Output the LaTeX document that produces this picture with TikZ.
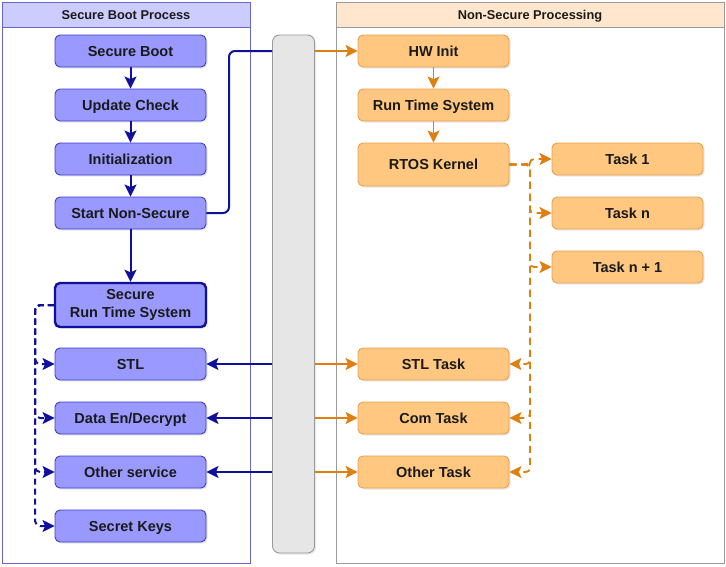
\documentclass[tikz,border=0pt]{standalone}
\usepackage{fontspec}
\setmainfont{Liberation Sans}
\usetikzlibrary{arrows.meta,shadows}

\definecolor{secfill}{HTML}{9999FF}
\definecolor{secline}{HTML}{3D3DCC}
\definecolor{navy}{HTML}{10109A}
\definecolor{sechead}{HTML}{CCCCFF}
\definecolor{secpanel}{HTML}{6666CC}
\definecolor{nsfill}{HTML}{FFC77F}
\definecolor{nsline}{HTML}{E8A050}
\definecolor{nsarrow}{HTML}{DE7F10}
\definecolor{nshead}{HTML}{FFE6CC}
\definecolor{busfill}{HTML}{E6E6E6}
\definecolor{busline}{HTML}{9A9A9A}
\definecolor{txt}{HTML}{1A1A1A}

\begin{document}
\begin{tikzpicture}[x=1pt, y=-1pt]
\tikzstyle{base} = [rounded corners=5pt, minimum width=151pt, minimum height=32pt, inner sep=0pt, text=txt, font=\bfseries\fontsize{14.5}{18.5}\selectfont, drop shadow={shadow xshift=1.5pt, shadow yshift=-1.5pt, opacity=0.18}]
\tikzstyle{box} = [base, text height=10.4pt, text depth=0pt]
\tikzstyle{sbox} = [box, draw=secline, line width=0.9pt, fill=secfill]
\tikzstyle{nbox} = [box, draw=nsline, line width=0.9pt, fill=nsfill]
\tikzstyle{head} = [draw, line width=0.8pt, inner sep=0pt, minimum height=25pt, text height=9.2pt, text depth=0pt, text=txt, font=\bfseries\fontsize{12.8}{15}\selectfont]
\tikzstyle{tipped} = [-{Stealth[length=12pt, width=12pt, inset=2.5pt]}]
\tikzstyle{barrow} = [tipped, draw=navy, line width=2pt]
\tikzstyle{oarrow} = [tipped, draw=nsarrow, line width=1.8pt]
\tikzstyle{bdash} = [barrow, dash pattern=on 6pt off 4pt, rounded corners=5pt]
\tikzstyle{odash} = [oarrow, dash pattern=on 7pt off 5pt, rounded corners=4pt]

\useasboundingbox (0,0) rectangle (726,566);

% panels
\node[draw=secpanel, line width=0.8pt, minimum width=248pt, minimum height=561pt, inner sep=0pt] (secpanel) at (126,282.5) {};
\node[head, draw=secpanel, fill=sechead, minimum width=248pt] (sectitle) at (126,14.5) {Secure Boot Process};
\node[draw=busline, line width=0.8pt, minimum width=388pt, minimum height=561pt, inner sep=0pt] (nspanel) at (530,282.5) {};
\node[head, draw=busline, fill=nshead, minimum width=388pt] (nstitle) at (530,14.5) {Non-Secure Processing};

% gateway bar
\node[draw=busline, fill=busfill, line width=0.9pt, rounded corners=7pt, minimum width=42pt, minimum height=518pt, inner sep=0pt, drop shadow={shadow xshift=1.5pt, shadow yshift=-1.5pt, opacity=0.18}] (bus) at (293.5,294) {};

% secure side
\node[sbox] (boot) at (130.5,51) {Secure Boot};
\node[sbox] (upd) at (130.5,105) {Update Check};
\node[sbox] (init) at (130.5,159) {Initialization};
\node[sbox] (start) at (130.5,213) {Start Non-Secure};
\node[base, draw=navy, line width=2.4pt, fill=secfill, minimum height=44pt, align=center] (srts) at (130.5,305) {Secure\\Run Time System};
\node[sbox] (stl) at (130.5,364) {STL};
\node[sbox] (crypt) at (130.5,418) {Data En/Decrypt};
\node[sbox] (other) at (130.5,472) {Other service};
\node[sbox] (keys) at (130.5,526) {Secret Keys};

% non-secure side
\node[nbox] (hw) at (433.5,51) {HW Init};
\node[nbox] (rts) at (433.5,105) {Run Time System};
\node[nbox, minimum height=43pt] (rtos) at (433.5,164.5) {RTOS Kernel};
\node[nbox] (stltask) at (433.5,364) {STL Task};
\node[nbox] (comtask) at (433.5,418) {Com Task};
\node[nbox] (othtask) at (433.5,472) {Other Task};
\node[nbox] (t1) at (627.5,159) {Task 1};
\node[nbox] (tn) at (627.5,213) {Task n};
\node[nbox] (tn1) at (627.5,267) {Task n + 1};

\coordinate (jog) at (229,51);
\coordinate (bsplit) at (35,305);
\coordinate (osplit) at (530,164.5);

\foreach \from/\to in {boot/upd, upd/init, init/start, start/srts}
\draw[barrow] (\from) -- (\to);
\foreach \from/\to in {hw/rts, rts/rtos}
\draw[oarrow] (\from) -- (\to);

\draw[draw=navy, line width=2pt, rounded corners=6pt] (start.east) -| (jog) -- (jog -| bus.west);
\draw[oarrow] (bus.east |- hw) -- (hw.west);

\foreach \n in {stl, crypt, other}
\draw[barrow] (bus.west |- \n) -- (\n.east);
\foreach \n in {stltask, comtask, othtask}
\draw[oarrow] (bus.east |- \n) -- (\n.west);

\foreach \n in {stl, crypt, other, keys}
\draw[bdash] (srts.west) -- (bsplit) |- (\n.west);
\foreach \n in {t1, tn, tn1}
\draw[odash] (rtos.east) -- (osplit) |- (\n.west);
\foreach \n in {stltask, comtask, othtask}
\draw[odash] (rtos.east) -- (osplit) |- (\n.east);
\end{tikzpicture}
\end{document}
